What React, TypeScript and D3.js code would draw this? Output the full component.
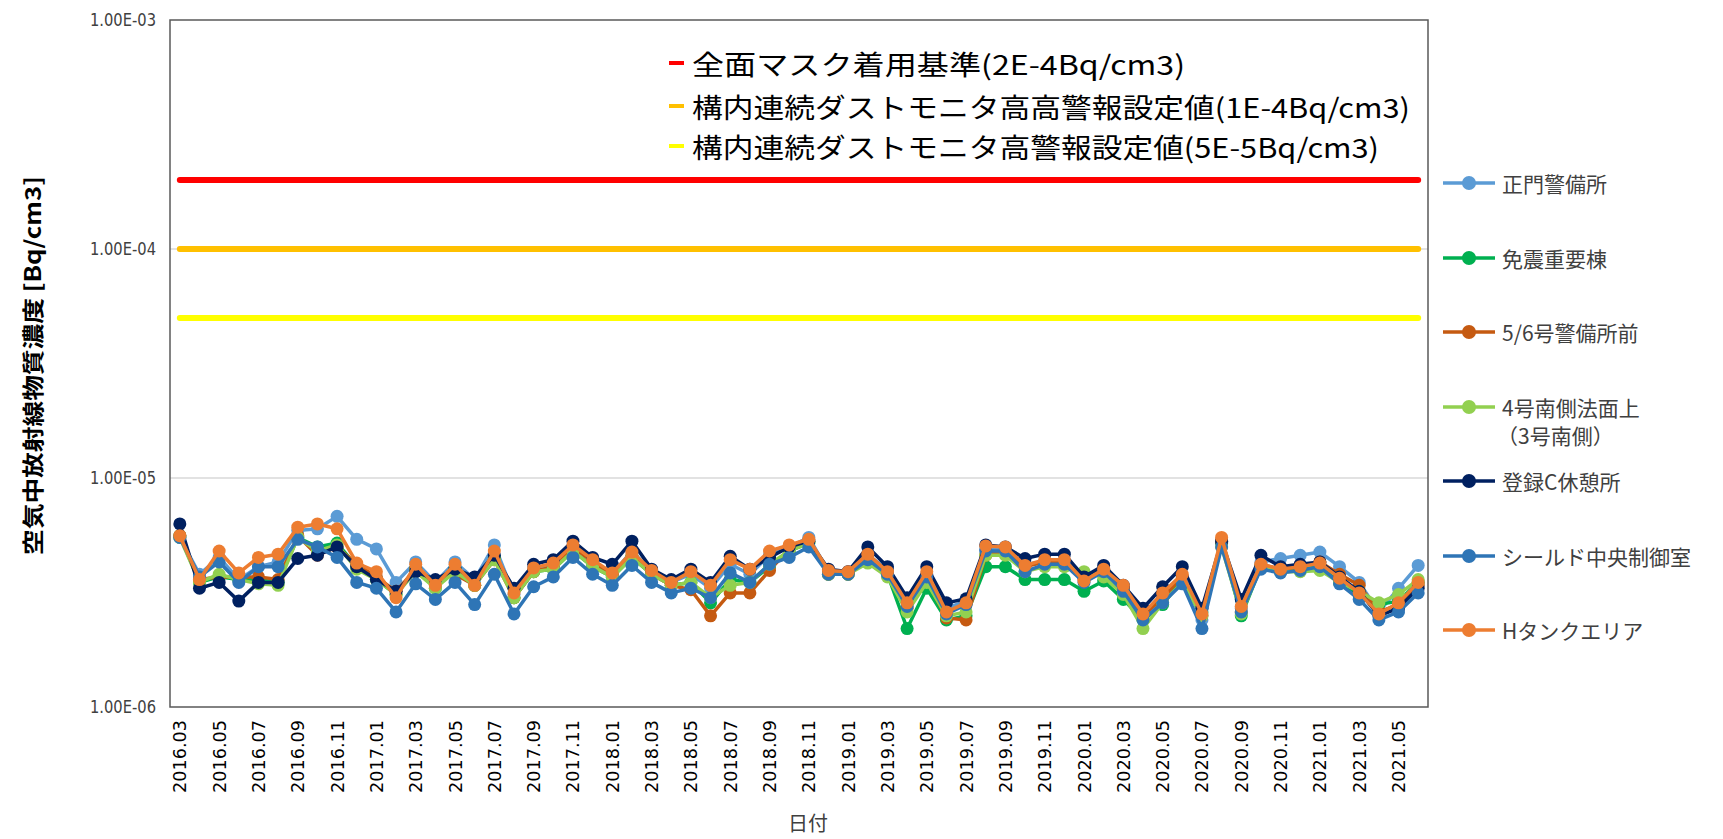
import React, { useEffect } from "react";
import * as d3 from "d3";

// 月次カテゴリ (2016.03 - 2021.06)
const months = [
  "2016.03", "2016.04", "2016.05", "2016.06", "2016.07", "2016.08", "2016.09", "2016.10", "2016.11", "2016.12",
  "2017.01", "2017.02", "2017.03", "2017.04", "2017.05", "2017.06", "2017.07", "2017.08", "2017.09", "2017.10", "2017.11", "2017.12",
  "2018.01", "2018.02", "2018.03", "2018.04", "2018.05", "2018.06", "2018.07", "2018.08", "2018.09", "2018.10", "2018.11", "2018.12",
  "2019.01", "2019.02", "2019.03", "2019.04", "2019.05", "2019.06", "2019.07", "2019.08", "2019.09", "2019.10", "2019.11", "2019.12",
  "2020.01", "2020.02", "2020.03", "2020.04", "2020.05", "2020.06", "2020.07", "2020.08", "2020.09", "2020.10", "2020.11", "2020.12",
  "2021.01", "2021.02", "2021.03", "2021.04", "2021.05", "2021.06",
];

// values in 1E-6 Bq/cm3
const UNIT = 1e-6;

const seimon = [
  5.5, 3.8, 4.5, 3.6, 4.1, 4.3, 5.9, 6.0, 6.8, 5.4, 4.9, 3.5, 4.3, 3.5, 4.3, 3.6, 5.1, 3.1, 4.0, 4.2, 5.0, 4.3,
  3.8, 4.8, 3.9, 3.5, 3.8, 3.3, 4.2, 3.8, 4.6, 5.0, 5.5, 3.9, 3.9, 4.6, 4.0, 2.9, 3.8, 2.7, 2.9, 4.9, 4.9,
  4.2, 4.3, 4.3, 3.7, 4.0, 3.3, 2.5, 3.0, 3.7, 2.4, 5.2, 2.7, 4.3, 4.45, 4.6, 4.75, 4.1, 3.5, 2.6, 3.3, 4.15,
];
const menshin = [
  5.6, 3.5, 3.7, 3.6, 3.6, 3.5, 5.5, 5.0, 5.2, 4.1, 3.6, 3.1, 4.0, 3.3, 4.0, 3.4, 4.5, 3.0, 3.9, 4.0, 4.8, 4.1,
  3.7, 4.5, 3.8, 3.4, 3.5, 2.85, 3.6, 3.5, 4.1, 4.8, 5.2, 3.8, 3.8, 4.4, 3.8, 2.2, 3.3, 2.4, 2.5, 4.1, 4.1,
  3.6, 3.6, 3.6, 3.2, 3.55, 2.95, 2.4, 2.8, 3.6, 2.6, 5.2, 2.5, 4.1, 3.9, 4.0, 4.1, 3.5, 3.1, 2.8, 2.9, 3.5,
];
const gogo = [
  5.6, 3.6, 3.7, 3.7, 3.7, 3.6, 5.6, 4.6, 5.0, 4.2, 3.7, 3.2, 4.0, 3.5, 3.8, 3.4, 4.4, 3.0, 3.9, 4.1, 5.0, 4.3,
  3.8, 4.6, 3.8, 3.4, 3.25, 2.5, 3.15, 3.15, 3.95, 4.9, 5.3, 3.8, 3.8, 4.6, 3.9, 2.7, 3.6, 2.45, 2.4, 4.6, 4.8,
  4.1, 4.3, 4.3, 3.6, 4.0, 3.3, 2.5, 3.0, 3.7, 2.5, 5.3, 2.6, 4.2, 4.0, 4.1, 4.3, 3.8, 3.4, 2.6, 2.8, 3.4,
];
const yongo = [
  5.5, 3.5, 3.8, 3.6, 3.45, 3.4, 5.5, 4.8, 5.1, 4.0, 3.6, 3.1, 3.9, 3.3, 3.9, 3.4, 4.4, 3.0, 3.9, 4.0, 4.8, 4.1,
  3.7, 4.5, 3.8, 3.4, 3.5, 3.0, 3.4, 3.5, 4.2, 4.8, 5.2, 3.8, 3.8, 4.25, 3.7, 2.6, 3.5, 2.5, 2.6, 4.6, 4.6,
  3.9, 4.1, 4.1, 3.9, 3.7, 3.1, 2.2, 2.85, 3.5, 2.5, 5.0, 2.55, 4.1, 3.9, 3.9, 3.95, 3.5, 3.2, 2.85, 3.1, 3.6,
];
const torokuC = [
  6.3, 3.3, 3.5, 2.9, 3.5, 3.5, 4.45, 4.6, 5.0, 4.1, 3.6, 3.2, 3.9, 3.6, 4.0, 3.7, 4.6, 3.3, 4.2, 4.4, 5.3, 4.5,
  4.2, 5.3, 4.0, 3.6, 4.0, 3.5, 4.55, 4.0, 4.5, 5.0, 5.3, 4.0, 3.9, 5.0, 4.1, 3.0, 4.1, 2.85, 2.97, 5.1, 5.0,
  4.45, 4.65, 4.65, 3.7, 4.15, 3.4, 2.7, 3.35, 4.1, 2.7, 5.3, 2.95, 4.6, 4.1, 4.2, 4.3, 3.7, 3.2, 2.5, 2.7, 3.3,
];
const shield = [
  5.5, 3.7, 4.3, 3.5, 4.1, 4.1, 5.4, 5.0, 4.5, 3.5, 3.3, 2.6, 3.45, 2.95, 3.5, 2.8, 3.8, 2.55, 3.35, 3.7, 4.5, 3.8,
  3.4, 4.15, 3.5, 3.15, 3.3, 3.0, 3.85, 3.5, 4.2, 4.5, 5.0, 3.8, 3.8, 4.4, 3.8, 2.75, 3.7, 2.55, 2.8, 4.8, 4.8,
  3.9, 4.2, 4.2, 3.5, 3.9, 3.2, 2.4, 2.85, 3.45, 2.2, 5.0, 2.6, 4.0, 3.85, 3.95, 4.1, 3.45, 2.95, 2.4, 2.6, 3.15,
];
const hTank = [
  5.6, 3.6, 4.8, 3.85, 4.5, 4.65, 6.1, 6.3, 6.0, 4.25, 3.9, 3.0, 4.2, 3.4, 4.2, 3.4, 4.8, 3.15, 4.05, 4.25, 5.1, 4.4,
  3.85, 4.75, 3.95, 3.5, 3.9, 3.4, 4.4, 4.0, 4.8, 5.1, 5.4, 3.95, 3.9, 4.65, 3.9, 2.85, 3.9, 2.6, 2.85, 5.05, 5.0,
  4.15, 4.4, 4.4, 3.55, 4.0, 3.4, 2.55, 3.15, 3.8, 2.55, 5.5, 2.75, 4.2, 4.0, 4.1, 4.25, 3.65, 3.15, 2.55, 2.85, 3.5,
];

const seriesNames = [
  "正門警備所",
  "免震重要棟",
  "5/6号警備所前",
  "4号南側法面上",
  "登録C休憩所",
  "シールド中央制御室",
  "Hタンクエリア",
];
const seriesColors = ["#5B9BD5", "#00B050", "#C55A11", "#92D050", "#002060", "#2E75B6", "#ED7D31"];
const seriesValues = [seimon, menshin, gogo, yongo, torokuC, shield, hTank];

// 基準値
const limitValues = [2e-4, 1e-4, 5e-5];
const limitLabels = [
  "全面マスク着用基準(2E-4Bq/cm3)",
  "構内連続ダストモニタ高高警報設定値(1E-4Bq/cm3)",
  "構内連続ダストモニタ高警報設定値(5E-5Bq/cm3)",
];
const limitColors = ["#FF0000", "#FFC000", "#FFFF00"];

const yTicks = [1e-6, 1e-5, 1e-4, 1e-3];

const W = 1723;
const H = 839;
const left = 170, right = 1428, top = 20, bottom = 707;

const fmtE = (v: number) => {
  const e = Math.round(Math.log10(v));
  return "1.00E" + (e < 0 ? "-" : "+") + String(Math.abs(e)).padStart(2, "0");
};

const App = () => {
  useEffect(() => {
    document.body.style.margin = "0";
  }, []);

  const x = d3.scaleBand<string>().domain(months).range([left, right]);
  const cx = (m: string) => (x(m) as number) + x.bandwidth() / 2;
  const y = d3.scaleLog().domain([1e-6, 1e-3]).range([bottom, top]);

  const line = d3
    .line<number>()
    .x((d, i) => cx(months[i]))
    .y((d) => y(d * UNIT));

  const font = "'Noto Sans CJK JP', 'Noto Sans', sans-serif";
  const legendY = [183, 258, 332, 407, 481, 556, 630];

  return (
    <svg width={W} height={H} style={{ display: "block", background: "#fff" }}>
      {/* gridlines */}
      {yTicks.slice(1, 3).map((t) => (
        <line key={t} x1={left} x2={right} y1={y(t)} y2={y(t)} stroke="#D9D9D9" strokeWidth={1.5} />
      ))}

      {/* limit lines */}
      {limitValues.map((v, k) => (
        <line
          key={v}
          x1={cx(months[0])}
          x2={cx(months[months.length - 1])}
          y1={y(v)}
          y2={y(v)}
          stroke={limitColors[k]}
          strokeWidth={6}
          strokeLinecap="round"
        />
      ))}

      {/* series */}
      {seriesValues.map((vals, s) => (
        <g key={s}>
          <path d={line(vals) || ""} fill="none" stroke={seriesColors[s]} strokeWidth={3.5} strokeLinejoin="round" />
          {vals.map((v, i) => (
            <circle key={i} cx={cx(months[i])} cy={y(v * UNIT)} r={6.5} fill={seriesColors[s]} />
          ))}
        </g>
      ))}

      {/* plot border */}
      <rect x={left} y={top} width={right - left} height={bottom - top} fill="none" stroke="#595959" strokeWidth={1.5} />

      {/* y axis */}
      {yTicks.map((t) => (
        <text
          key={t}
          x={156}
          y={y(t)}
          textAnchor="end"
          dominantBaseline="central"
          fontFamily="'DejaVu Sans', sans-serif"
          fontSize={17}
          textLength={66}
          lengthAdjust="spacingAndGlyphs"
          fill="#404040"
        >
          {fmtE(t)}
        </text>
      ))}
      <text
        transform={`translate(31,${(176 + 555) / 2}) rotate(-90)`}
        textAnchor="middle"
        dominantBaseline="central"
        fontFamily={font}
        fontSize={22}
        fontWeight="bold"
        textLength={379}
        lengthAdjust="spacingAndGlyphs"
        fill="#000"
      >
        空気中放射線物質濃度 [Bq/cm3]
      </text>

      {/* x axis */}
      {months
        .filter((m, i) => i % 2 === 0)
        .map((m) => (
          <text
            key={m}
            transform={`translate(${cx(m)},720) rotate(-90)`}
            textAnchor="end"
            dominantBaseline="central"
            fontFamily="'DejaVu Sans', sans-serif"
            fontSize={18}
            textLength={73}
            lengthAdjust="spacingAndGlyphs"
            fill="#000"
          >
            {m}
          </text>
        ))}
      <text x={808} y={822} textAnchor="middle" dominantBaseline="central" fontFamily={font} fontSize={20} fill="#404040">
        日付
      </text>

      {/* limit legend */}
      {limitLabels.map((lab, k) => {
        const ly = [63, 106, 146][k];
        const tl = [493, 718, 687][k];
        return (
          <g key={lab}>
            <line x1={669} x2={684} y1={ly} y2={ly} stroke={limitColors[k]} strokeWidth={4} />
            <text
              x={692}
              y={ly}
              dominantBaseline="central"
              fontFamily={font}
              fontSize={27}
              textLength={tl}
              lengthAdjust="spacingAndGlyphs"
              fill="#000"
            >
              {lab}
            </text>
          </g>
        );
      })}

      {/* series legend */}
      {seriesNames.map((name, s) => (
        <g key={name}>
          <line x1={1443} x2={1495} y1={legendY[s]} y2={legendY[s]} stroke={seriesColors[s]} strokeWidth={3.5} />
          <circle cx={1469} cy={legendY[s]} r={7} fill={seriesColors[s]} />
          <text x={1502} y={legendY[s]} dominantBaseline="central" fontFamily={font} fontSize={21} fill="#404040">
            {name}
          </text>
          {s === 3 && (
            <text x={1497} y={legendY[s] + 28} dominantBaseline="central" fontFamily={font} fontSize={21} fill="#404040">
              （3号南側）
            </text>
          )}
        </g>
      ))}
    </svg>
  );
};

export default App;
